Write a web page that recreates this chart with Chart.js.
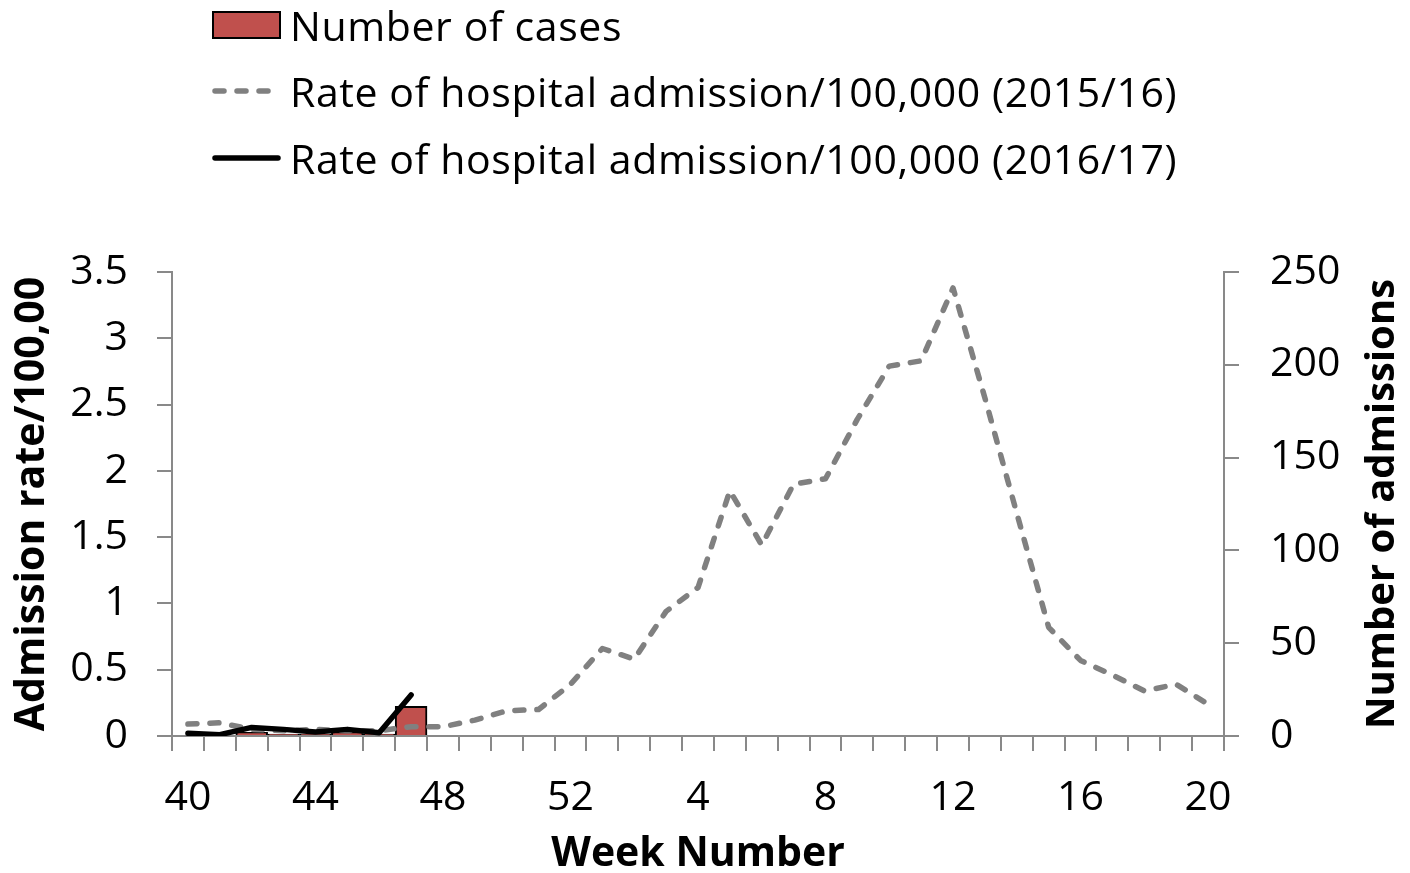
<!DOCTYPE html>
<html>
<head>
<meta charset="utf-8">
<script src="https://cdn.jsdelivr.net/npm/chart.js@4.4.1/dist/chart.umd.min.js"></script>
<style>
  html, body { margin: 0; padding: 0; background: #fff; }
  #wrap { position: relative; width: 1410px; height: 873px; }
  #legend { position: absolute; left: 0; top: 0; font-family: 'Open Sans', sans-serif; font-size: 41px; letter-spacing: 0.6px; color: #000; }
  .item { position: absolute; left: 212px; display: flex; align-items: center; white-space: nowrap; height: 46px; }
  .item svg { margin-right: 9px; }
</style>
</head>
<body>
<div id="wrap">
  <canvas id="myChart" width="1410" height="873"></canvas>
  <div id="legend"></div>
</div>
<script>
// week numbers, season 2015/16 vs 2016/17
const weeks = ['40','41','42','43','44','45','46','47','48','49','50','51','52',
  '1','2','3','4','5','6','7','8','9','10','11','12','13','14','15','16','17','18','19','20']

const cases = [0, 0, 2, 1, 1, 2, 1, 16]

const rate1516 = [0.09, 0.10, 0.05, 0.04, 0.05, 0.04, 0.04, 0.07, 0.07, 0.12, 0.19, 0.20, 0.39,
  0.66, 0.58, 0.94, 1.12, 1.85, 1.44, 1.90, 1.94, 2.39, 2.79, 2.83, 3.38,
  2.55, 1.68, 0.82, 0.57, 0.46, 0.34, 0.39, 0.24]

const rate1617 = [0.02, 0.01, 0.065, 0.05, 0.03, 0.05, 0.025, 0.31]

const font = { family: "'Open Sans', sans-serif", size: 41 }
const boldFont = { family: "'Open Sans', sans-serif", size: 41, weight: 'bold' }
const axisGrey = '#898989'

// right axis title reads bottom-to-top like the left one
const rightTitle = {
    id: 'rightTitle',
    afterDraw(chart) {
        const scale = chart.scales.y1
        const ctx = chart.ctx
        ctx.save()
        ctx.translate(1383, (scale.top + scale.bottom) / 2)
        ctx.rotate(-Math.PI / 2)
        ctx.font = `bold 40px 'Open Sans', sans-serif`
        ctx.fillStyle = '#000'
        ctx.textAlign = 'center'
        ctx.textBaseline = 'middle'
        ctx.fillText('Number of admissions', 0, 0)
        ctx.restore()
    }
}

const chart = new Chart('myChart', {
    type: 'bar',
    data: {
        labels: weeks,
        datasets: [{
            type: 'bar',
            label: 'Number of cases',
            data: cases,
            yAxisID: 'y1',
            backgroundColor: '#C0504D',
            borderColor: '#000',
            borderWidth: 2,
            barPercentage: 1,
            categoryPercentage: 1,
            order: 3
        }, {
            type: 'line',
            label: 'Rate of hospital admission/100,000 (2015/16)',
            data: rate1516,
            yAxisID: 'y',
            borderColor: '#808080',
            backgroundColor: '#808080',
            borderWidth: 5.5,
            borderDash: [9, 13],
            borderCapStyle: 'round',
            borderJoinStyle: 'round',
            pointRadius: 0,
            tension: 0,
            order: 2
        }, {
            type: 'line',
            label: 'Rate of hospital admission/100,000 (2016/17)',
            data: rate1617,
            yAxisID: 'y',
            borderColor: '#000',
            backgroundColor: '#000',
            borderWidth: 5.5,
            borderCapStyle: 'round',
            borderJoinStyle: 'round',
            pointRadius: 0,
            tension: 0,
            order: 1
        }]
    },
    options: {
        responsive: false,
        animation: false,
        layout: { padding: { top: 272, left: 0, right: 0, bottom: 0 } },
        plugins: {
            legend: { display: false },
            tooltip: { enabled: false }
        },
        scales: {
            x: {
                offset: true,
                grid: { offset: true, drawOnChartArea: false, drawTicks: true, tickLength: 15, color: axisGrey, lineWidth: 2 },
                border: { color: axisGrey, width: 2 },
                ticks: {
                    autoSkip: false, maxRotation: 0, padding: 23, color: '#000', font: font,
                    callback: (v, i) => i % 4 === 0 ? weeks[i] : ''
                },
                title: { display: true, text: 'Week Number', color: '#000', font: { ...boldFont, lineHeight: 0.9 }, padding: 0 },
                afterFit: (scale) => { scale.height = 137 }
            },
            y: {
                position: 'left',
                min: 0, max: 3.5,
                grid: { drawOnChartArea: false, drawTicks: true, tickLength: 15, color: axisGrey, lineWidth: 2 },
                border: { color: axisGrey, width: 2 },
                ticks: { stepSize: 0.5, padding: 29, color: '#000', font: font, callback: (v) => String(v) },
                title: { display: true, text: 'Admission rate/100,00', color: '#000', font: boldFont, padding: { top: 8, bottom: 0 } },
                afterFit: (scale) => { scale.width = 172 }
            },
            y1: {
                position: 'right',
                min: 0, max: 250,
                grid: { drawOnChartArea: false, drawTicks: true, tickLength: 15, color: axisGrey, lineWidth: 2 },
                border: { color: axisGrey, width: 2 },
                ticks: { stepSize: 50, padding: 31, color: '#000', font: font, callback: (v) => String(v) },
                title: { display: false },
                afterFit: (scale) => { scale.width = 186 }
            }
        }
    },
    plugins: [rightTitle]
})

// legend drawn as html, built from the datasets
const legendTops = [2, 68, 135]
const legendEl = document.getElementById('legend')
chart.data.datasets.forEach((ds, i) => {
    const item = document.createElement('div')
    item.className = 'item'
    item.style.top = legendTops[i] + 'px'
    let swatch
    if (ds.type === 'bar') {
        swatch = `<svg width="69" height="30"><rect x="1" y="2" width="67" height="26" fill="${ds.backgroundColor}" stroke="#000" stroke-width="2"/></svg>`
    } else {
        const dash = ds.borderDash ? `stroke-dasharray="${ds.borderDash.join(' ')}"` : ''
        swatch = `<svg width="69" height="30"><line x1="3" y1="15" x2="66" y2="15" stroke="${ds.borderColor}" stroke-width="${ds.borderWidth}" stroke-linecap="round" ${dash}/></svg>`
    }
    item.innerHTML = swatch + `<span>${ds.label}</span>`
    legendEl.appendChild(item)
})
</script>
</body>
</html>
